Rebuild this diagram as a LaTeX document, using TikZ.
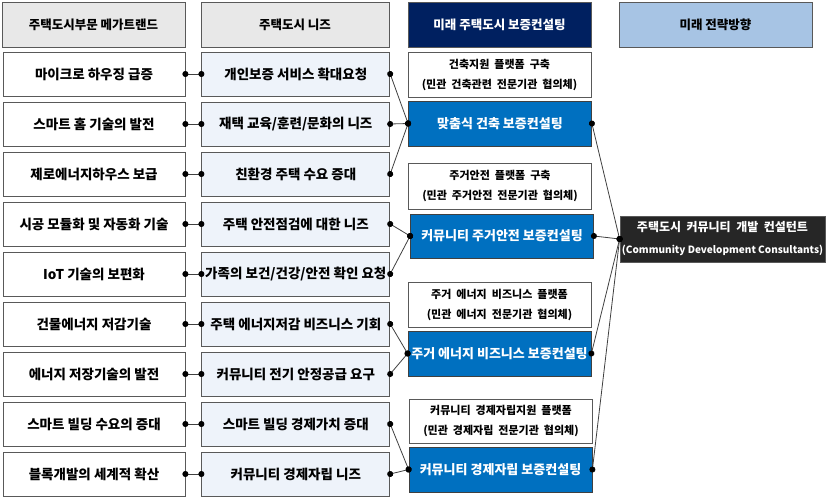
\documentclass[tikz,border=0pt]{standalone}
\usepackage{fontspec}
\setmainfont{Noto Sans CJK KR}
\usetikzlibrary{arrows.meta,positioning}
\definecolor{hdrgray}{HTML}{E8E8E8}
\definecolor{needblue}{HTML}{EEF3FA}
\definecolor{navy}{HTML}{002060}
\definecolor{skyblue}{HTML}{A7C4E4}
\definecolor{consblue}{HTML}{0070C0}
\definecolor{darkbox}{HTML}{262626}

\begin{document}
\begin{tikzpicture}[x=1pt, y=-1pt,
  box/.style={draw=black!65, line width=0.8pt, align=center, inner sep=0pt, font=\bfseries\fontsize{13.5}{16}\selectfont},
  hdr/.style={box, minimum height=45pt, fill=hdrgray, font=\bfseries\fontsize{12.5}{15}\selectfont},
  trend/.style={box, minimum width=182pt, minimum height=44pt, fill=white},
  need/.style={box, minimum width=188pt, minimum height=44pt, fill=needblue},
  plat/.style={box, minimum width=183pt, minimum height=45pt, fill=white, font=\bfseries\fontsize{11}{20}\selectfont},
  cons/.style={box, draw=black!75, minimum width=183pt, minimum height=45pt, fill=consblue, text=white, font=\bfseries\fontsize{13}{16}\selectfont},
  link/.style={draw=black!75, line width=0.8pt, {Circle[length=6pt,color=black]}-{Circle[length=6pt,color=black]}, shorten <=-3pt, shorten >=-3pt},
  node distance=5.2pt and 16pt]
  \useasboundingbox (0,0) rectangle (827,498);

  % column heads
  \node[hdr, minimum width=183pt] (h1) at (93.5,24.5) {주택도시부문 메가트랜드};
  \node[hdr, minimum width=188pt] (h2) at (295,24.5) {주택도시 니즈};
  \node[hdr, minimum width=183pt, fill=navy, text=white] (h3) at (499.5,24.5) {미래 주택도시 보증컨설팅};
  \node[hdr, minimum width=193pt, fill=skyblue] (h4) at (715.5,24.5) {미래 전략방향};

  % megatrends
  \node[trend] (t1) at (94,74) {마이크로 하우징 급증};
  \node[trend, below=of t1] (t2) {스마트 홈 기술의 발전};
  \node[trend, below=of t2] (t3) {제로에너지하우스 보급};
  \node[trend, below=of t3] (t4) {시공 모듈화 및 자동화 기술};
  \node[trend, below=of t4] (t5) {IoT 기술의 보편화};
  \node[trend, below=of t5] (t6) {건물에너지 저감기술};
  \node[trend, below=of t6] (t7) {에너지 저장기술의 발전};
  \node[trend, below=of t7] (t8) {스마트 빌딩 수요의 증대};
  \node[trend, below=of t8] (t9) {블록개발의 세계적 확산};

  % needs
  \node[need, right=of t1] (n1) {개인보증 서비스 확대요청};
  \node[need, right=of t2] (n2) {재택 교육/훈련/문화의 니즈};
  \node[need, right=of t3] (n3) {친환경 주택 수요 증대};
  \node[need, right=of t4] (n4) {주택 안전점검에 대한 니즈};
  \node[need, right=of t5] (n5) {가족의 보건/건강/안전 확인 요청};
  \node[need, right=of t6] (n6) {주택 에너지저감 비즈니스 기회};
  \node[need, right=of t7] (n7) {커뮤니티 전기 안정공급 요구};
  \node[need, right=of t8] (n8) {스마트 빌딩 경제가치 증대};
  \node[need, right=of t9] (n9) {커뮤니티 경제자립 니즈};

  % platforms and consulting
  \node[plat] (p1) at (499.5,74.5) {건축지원 \ 플랫폼 \ 구축\\(민관 \ 건축관련 \ 전문기관 \ 협의체)};
  \node[cons] (c1) at (500,123.5) {맞춤식 건축 보증컨설팅};
  \node[plat, minimum height=46pt] (p2) at (500,186) {주거안전 \ 플랫폼 \ 구축\\(민관 \ 주거안전 \ 전문기관 \ 협의체)};
  \node[cons, minimum height=44pt] (c2) at (502,236) {커뮤니티 주거안전 보증컨설팅};
  \node[plat] (p3) at (499.5,304.5) {주거 \ 에너지 \ 비즈니스 \ 플랫폼\\(민관 \ 에너지 \ 전문기관 \ 협의체)};
  \node[cons] (c3) at (499.5,353.5) {주거 에너지 비즈니스 보증컨설팅};
  \node[plat, minimum height=44pt] (p4) at (501,421) {커뮤니티 \ 경제자립지원 \ 플랫폼\\(민관 \ 경제자립 \ 전문기관 \ 협의체)};
  \node[cons] (c4) at (500.5,469.5) {커뮤니티 경제자립 보증컨설팅};

  % strategy
  \node[box, fill=darkbox, text=white, minimum width=205pt, minimum height=46pt, font=\bfseries\fontsize{12}{22}\selectfont] (goal) at (722.5,239) {주택도시 \ 커뮤니티 \ 개발 \ 컨설턴트\\{\fontsize{10}{22}\selectfont(Community Development Consultants)}};

  \draw[link] (t1.east) -- (n1.west);
  \draw[link] (t2.east) -- (n2.west);
  \draw[link] (t3.east) -- (n3.west);
  \draw[link] (t4.east) -- (n4.west);
  \draw[link] (t5.east) -- (n5.west);
  \draw[link] (t6.east) -- (n6.west);
  \draw[link] (t7.east) -- (n7.west);
  \draw[link] (t8.east) -- (n8.west);
  \draw[link] (t9.east) -- (n9.west);

  \draw[link] (n1.east) -- (c1.west);
  \draw[link] (n2.east) -- (c1.west);
  \draw[link] (n3.east) -- (c1.west);
  \draw[link] (n4.east) -- (c2.west);
  \draw[link] (n5.east) -- (c2.west);
  \draw[link] (n6.east) -- (c3.west);
  \draw[link] (n7.east) -- (c3.west);
  \draw[link] (n8.east) -- (c4.west);
  \draw[link] (n9.east) -- (c4.west);

  \draw[link] (c1.east) -- (goal.west);
  \draw[link] (c2.east) -- (goal.west);
  \draw[link] (c3.east) -- (goal.west);
  \draw[link] (c4.east) -- (goal.west);
\end{tikzpicture}
\end{document}
